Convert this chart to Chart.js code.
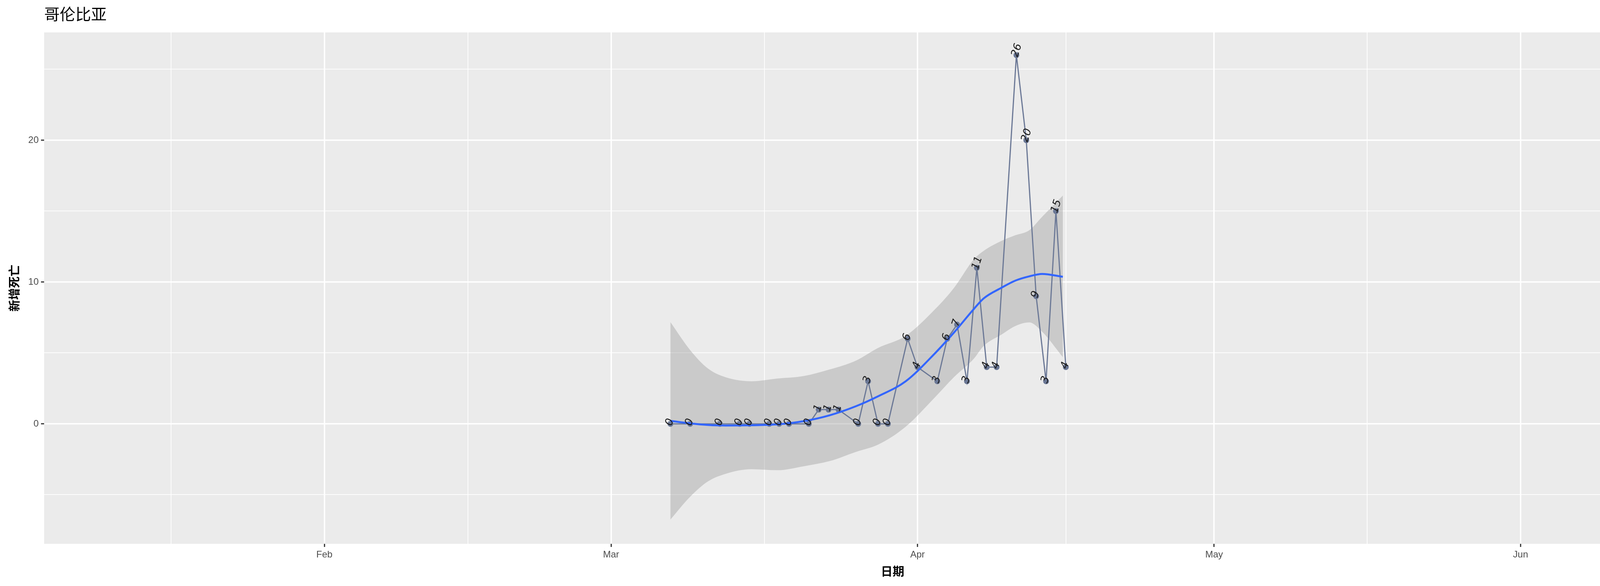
<!DOCTYPE html>
<html><head><meta charset="utf-8">
<script src="https://cdn.jsdelivr.net/npm/chart.js@4"></script>
<style>html,body{margin:0;background:#fff}#c{display:block}</style>
</head><body>
<canvas id="c" width="4500" height="1500" style="width:4500px;height:1500px"></canvas>
<script>
// day-of-year 2020 (Jan 1 = 1)
const dataDays   = [67,69,72,74,75,77,78,79,81,82,83,84,86,87,88,89,91,92,94,95,96,97,98,99,100,102,103,104,105,106,107];
const dataValues = [0, 0, 0, 0, 0, 0, 0, 0, 0, 1, 1, 1, 0, 3, 0, 0, 6, 4, 3, 6, 7, 3, 11, 4, 4, 26, 20, 9, 3, 15, 4];
const smoothDays  = [67,69,70.8,72.6,75.2,77.8,80.5,83.1,85.8,88,90.8,93.8,95.7,97.7,98.7,100.5,101.9,103.3,104.6,106.7];
const smoothFit   = [0.21,0.03,-0.08,-0.12,-0.1,-0.04,0.19,0.6,1.25,1.94,3.0,5.0,6.45,8.1,8.85,9.6,10.1,10.4,10.57,10.37];
const smoothUpper = [7.17,5.2,3.9,3.28,3.0,3.19,3.37,3.83,4.47,5.35,6.2,8.1,9.6,11.6,12.2,12.9,13.3,13.65,14.6,16.1];
const smoothLower = [-6.75,-5.14,-4.06,-3.52,-3.2,-3.27,-2.99,-2.63,-1.97,-1.47,-0.2,1.9,3.3,4.6,5.5,6.3,6.9,7.15,6.5,4.7];
const xTickDays   = [16.5,32,46.5,61,76.5,92,107,122,137.5,153,168];
const xTickLabels = ['', 'Feb', '', 'Mar', '', 'Apr', '', 'May', '', 'Jun', ''];
const yTickValues = [-5,0,5,10,15,20,25];
const yTickLabels = ['', '0', '', '10', '', '20', ''];
const titleText = '哥伦比亚', xTitle = '日期', yTitle = '新增死亡';

const pts = (xs, ys) => xs.map((x,i)=>({x, y: ys[i]}));
const FONT = '"Liberation Sans", "Noto Sans CJK SC", sans-serif';

const deco = {
  id:'deco',
  beforeDraw(ch){
    const c=ch.ctx, a=ch.chartArea;
    c.save(); c.fillStyle='#fff'; c.fillRect(0,0,ch.width,ch.height);
    c.fillStyle='#EBEBEB'; c.fillRect(a.left,a.top,a.right-a.left,a.bottom-a.top); c.restore();
  },
  afterDatasetsDraw(ch){
    const c=ch.ctx, meta=ch.getDatasetMeta(1);
    c.save(); c.fillStyle='#1a1a1a'; c.font='italic 27px "DejaVu Sans", sans-serif';
    c.textAlign='left'; c.textBaseline='middle';
    meta.data.forEach((p,i)=>{
      c.save(); c.translate(p.x-4,p.y+4); c.rotate(-72*Math.PI/180);
      c.fillText(String(dataValues[i]),0,0); c.restore();
    });
    c.restore();
  },
  afterDraw(ch){
    const c=ch.ctx, a=ch.chartArea;
    c.save(); c.fillStyle='#000';
    c.font='40px "Noto Sans CJK SC", sans-serif'; c.textAlign='left'; c.textBaseline='middle';
    c.fillText(titleText, a.left, 36);
    c.font='bold 30px "Noto Sans CJK SC", sans-serif'; c.textAlign='center';
    c.fillText(xTitle, (a.left+a.right)/2, 1462);
    c.save(); c.translate(36,(a.top+a.bottom)/2); c.rotate(-Math.PI/2); c.fillText(yTitle,0,0); c.restore();
    c.restore();
  }
};

new Chart(document.getElementById('c'), {
  type:'line',
  data:{datasets:[
    {data:pts(smoothDays,smoothFit), borderColor:'#3366FF', borderWidth:5, pointRadius:0, tension:0.4, cubicInterpolationMode:'monotone', fill:false},
    {data:pts(dataDays,dataValues), borderColor:'#6B7896', backgroundColor:'#6B7896', borderWidth:3, pointRadius:6, tension:0, fill:false},
    {data:pts(smoothDays,smoothUpper), borderWidth:0, pointRadius:0, tension:0.4, cubicInterpolationMode:'monotone', fill:'+1', backgroundColor:'rgba(153,153,153,0.4)'},
    {data:pts(smoothDays,smoothLower), borderWidth:0, pointRadius:0, tension:0.4, cubicInterpolationMode:'monotone', fill:false}
  ]},
  plugins:[deco],
  options:{
    responsive:false, animation:false, devicePixelRatio:1,
    layout:{padding:{top:83,right:43,left:0,bottom:0}},
    plugins:{legend:{display:false}, tooltip:{enabled:false}, title:{display:false}},
    scales:{
      x:{type:'linear', min:3.65, max:175.3,
        afterBuildTicks(s){ s.ticks = xTickDays.map(v=>({value:v})); },
        afterFit(s){ s.height = 108; },
        ticks:{autoSkip:false, maxRotation:0, color:'#4D4D4D', font:{size:24, family:FONT}, padding:6,
          callback:(v,i)=>xTickLabels[i]},
        grid:{color:'#FFFFFF', lineWidth:c=>xTickLabels[c.index]?3.5:1.8, drawTicks:true, tickLength:8,
          tickColor:c=>xTickLabels[c.index]?'#333333':'rgba(0,0,0,0)', tickWidth:3},
        border:{display:false}
      },
      y:{type:'linear', min:-8.46, max:27.6,
        afterBuildTicks(s){ s.ticks = yTickValues.map(v=>({value:v})); },
        afterFit(s){ s.width = 113; },
        ticks:{autoSkip:false, color:'#4D4D4D', font:{size:24, family:FONT}, padding:6,
          callback:(v,i)=>yTickLabels[i]},
        grid:{color:'#FFFFFF', lineWidth:c=>yTickLabels[c.index]?3.5:1.8, drawTicks:true, tickLength:8,
          tickColor:c=>yTickLabels[c.index]?'#333333':'rgba(0,0,0,0)', tickWidth:3},
        border:{display:false}
      }
    }
  }
});
</script>
</body></html>
